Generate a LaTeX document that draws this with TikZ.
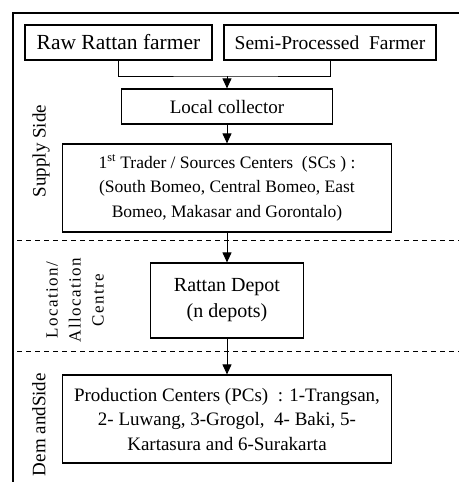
\documentclass[tikz,border=0pt]{standalone}
\usepackage{fontspec}
\setmainfont{Liberation Serif}
\newfontfamily\spacedfont[LetterSpace=8]{Liberation Serif}
\usetikzlibrary{arrows.meta}

\begin{document}
\begin{tikzpicture}[x=1pt, y=-1pt,
  box/.style={draw, line width=1.2pt, align=center, inner sep=0pt, font=\fontsize{19}{24.5}\selectfont},
  arr/.style={-{Triangle[length=10pt,width=9pt]}, line width=1pt},
  side/.style={rotate=90, align=center, inner sep=0pt, font=\fontsize{19}{23}\selectfont}]
\useasboundingbox (0,0) rectangle (459,482);
% frame and the three bands
\draw[line width=1.2pt] (13,482) -- (13,13) -- (459,13);
\draw[line width=1pt, dash pattern=on 5pt off 4pt] (17,240) -- (459,240);
\draw[line width=1pt, dash pattern=on 5pt off 4pt] (17,351) -- (459,351);
% boxes
\node[box, minimum width=187pt, minimum height=35pt, font=\fontsize{21.5}{24}\selectfont] (raw) at (118.5,42.5) {Raw Rattan farmer};
\node[box, minimum width=212pt, minimum height=35pt, font=\fontsize{19.5}{24}\selectfont] (semi) at (330,42.5) {Semi-Processed~ Farmer};
\node[box, minimum width=211pt, minimum height=35pt] (local) at (227,106.5) {Local collector};
\node[box, minimum width=329pt, minimum height=88pt, font=\fontsize{17.5}{24.5}\selectfont] (sc) at (227,188) {1\textsuperscript{st} Trader / Sources Centers~ (SCs ) :\\(South Bomeo, Central Bomeo, East\\Bomeo, Makasar and Gorontalo)};
\node[box, minimum width=153pt, minimum height=75pt, font=\fontsize{20}{26}\selectfont] (depot) at (227,300.5) {Rattan Depot\\(n depots)};
\node[box, minimum width=329pt, minimum height=88pt] (pc) at (227,419) {Production Centers (PCs)~ : 1-Trangsan,\\2- Luwang, 3-Grogol,~ 4- Baki, 5-\\Kartasura and 6-Surakarta};
% side labels
\node[side] (supply) at (41,151) {Supply Side};
\node[side, font=\fontsize{17}{23}\spacedfont] (alloc) at (75,300) {Location/\\Allocation\\Centre};
\node[side, anchor=east] (demand) at (39,373) {Dem andSide};
% connectors
\coordinate (merge) at (227,76);
\draw[line width=1pt] (raw.south) |- (merge) -| (semi.south);
\draw[arr] (merge) -- (local.north);
\draw[arr] (local.south) -- (sc.north);
\draw[arr] (sc.south) -- (depot.north);
\draw[arr] (depot.south) -- (pc.north);
\end{tikzpicture}
\end{document}
